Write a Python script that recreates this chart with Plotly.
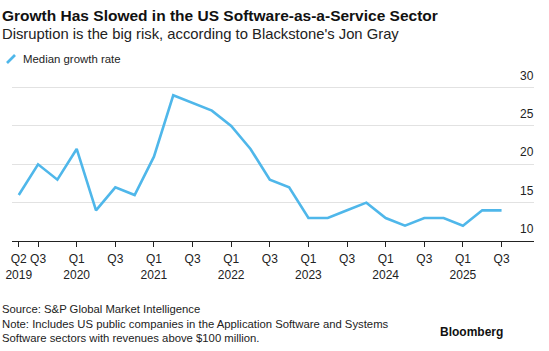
import plotly.graph_objects as go

quarters = ["Q2 2019", "Q3 2019", "Q4 2019",
            "Q1 2020", "Q2 2020", "Q3 2020", "Q4 2020",
            "Q1 2021", "Q2 2021", "Q3 2021", "Q4 2021",
            "Q1 2022", "Q2 2022", "Q3 2022", "Q4 2022",
            "Q1 2023", "Q2 2023", "Q3 2023", "Q4 2023",
            "Q1 2024", "Q2 2024", "Q3 2024", "Q4 2024",
            "Q1 2025", "Q2 2025", "Q3 2025"]
growth = [16, 20, 18,
          22, 14, 17, 16,
          21, 29, 28, 27,
          25, 22, 18, 17,
          13, 13, 14, 15,
          13, 12, 13, 13,
          12, 14, 14]

tick_idx = [0, 1, 3, 5, 7, 9, 11, 13, 15, 17, 19, 21, 23, 25]
tick_text = ["Q2<br>2019", "Q3", "Q1<br>2020", "Q3", "Q1<br>2021", "Q3",
             "Q1<br>2022", "Q3", "Q1<br>2023", "Q3", "Q1<br>2024", "Q3",
             "Q1<br>2025", "Q3"]
y_ticks = [10, 15, 20, 25, 30]

FONT = "Liberation Sans, Arial, sans-serif"
BLUE = "#4fb7ea"

x = list(range(len(quarters)))

fig = go.Figure()
fig.add_trace(go.Scatter(x=x, y=growth, mode="lines", name="Median growth rate",
                         line=dict(color=BLUE, width=2.6), customdata=quarters,
                         hovertemplate="%{customdata}: %{y}%<extra></extra>",
                         showlegend=False))

fig.update_layout(
    width=549, height=351,
    margin=dict(l=12, r=15, t=70, b=110, autoexpand=False),
    paper_bgcolor="white", plot_bgcolor="white",
    font=dict(family=FONT, color="#222", size=12),
    xaxis=dict(range=[-0.35, 26.68], tickmode="array", tickvals=tick_idx,
               ticktext=tick_text, tickangle=0, automargin=False,
               showgrid=False, zeroline=False,
               showline=True, linecolor="#222", linewidth=1,
               ticks="outside", ticklen=5, tickcolor="#222",
               ticklabelstandoff=2,
               tickfont=dict(size=12, color="#222", family=FONT)),
    yaxis=dict(range=[10, 32.3], side="right", tickmode="array", automargin=False,
               tickvals=y_ticks, showticklabels=False,
               showgrid=True, gridcolor="#e2e2e2", gridwidth=1,
               zeroline=False, showline=False, ticks=""),
    showlegend=False,
)

for v in y_ticks:
    fig.add_annotation(text=str(v), xref="paper", yref="y", x=1 + 2/522, y=v,
                       xanchor="right", yanchor="bottom", yshift=3, showarrow=False,
                       font=dict(size=12, color="#222", family=FONT))

fig.add_annotation(text="<b>Growth Has Slowed in the US Software-as-a-Service Sector</b>",
                   xref="paper", yref="paper", x=-12/522, y=1, xanchor="left",
                   yanchor="bottom", showarrow=False, yshift=44,
                   font=dict(size=15.5, color="#111", family=FONT))
fig.add_annotation(text="Disruption is the big risk, according to Blackstone's Jon Gray",
                   xref="paper", yref="paper", x=-12/522, y=1, xanchor="left",
                   yanchor="bottom", showarrow=False, yshift=26,
                   font=dict(size=14.8, color="#222", family=FONT))
# legend
fig.add_shape(type="line", xref="paper", yref="paper",
              x0=-5/522, x1=3/522, y0=1 + 7/171, y1=1 + 15/171,
              line=dict(color=BLUE, width=2.6))
fig.add_annotation(text="Median growth rate", xref="paper", yref="paper",
                   x=9/522, y=1 + 11/171, xanchor="left", yanchor="middle",
                   showarrow=False, font=dict(size=11.4, color="#222", family=FONT))
# footer
fig.add_annotation(text="Source: S&P Global Market Intelligence<br>"
                        "Note: Includes US public companies in the Application Software and Systems<br>"
                        "Software sectors with revenues above $100 million.",
                   xref="paper", yref="paper", x=-12/522, y=-(301 - 241) / 171,
                   xanchor="left", yanchor="top", align="left", showarrow=False,
                   font=dict(size=11.3, color="#222", family=FONT))
fig.add_annotation(text="<b>Bloomberg</b>", xref="paper", yref="paper",
                   x=1 - 29/522, y=-(331.5 - 241) / 171, xanchor="right", yanchor="middle",
                   showarrow=False, font=dict(size=12, color="#111", family=FONT))

fig.write_html("out.html")
